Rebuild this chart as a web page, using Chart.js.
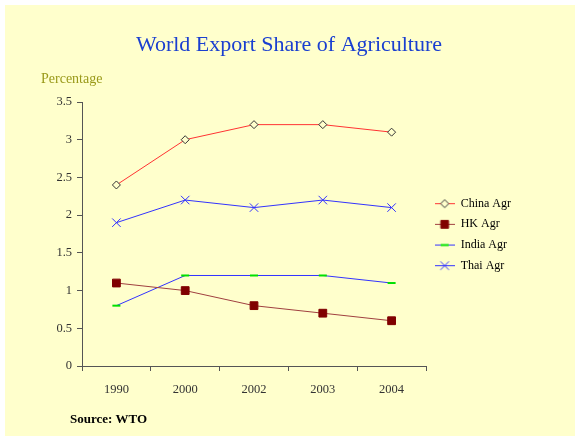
<!DOCTYPE html>
<html>
<head>
<meta charset="utf-8">
<script src="https://cdn.jsdelivr.net/npm/chart.js@4/dist/chart.umd.min.js"></script>
<style>
  html, body { margin: 0; padding: 0; background: #fff; }
  canvas { display: block; }
</style>
</head>
<body>
<canvas id="myChart" width="575" height="436"></canvas>
<script>
const years = ['1990', '2000', '2002', '2003', '2004'];
const chinaAgr = [2.4, 3.0, 3.2, 3.2, 3.1];
const hkAgr = [1.1, 1.0, 0.8, 0.7, 0.6];
const indiaAgr = [0.8, 1.2, 1.2, 1.2, 1.1];
const thaiAgr = [1.9, 2.2, 2.1, 2.2, 2.1];
const seriesNames = ['China Agr', 'HK Agr', 'India Agr', 'Thai Agr'];

const SERIF = "'Liberation Serif', 'Times New Roman', serif";
const BG = '#FFFFCC';

class LinePlot {
    constructor() {
        this.ctx = document.getElementById('myChart').getContext('2d');
        this.setChart();
    }

    getDatasets() {
        return [
            { label: seriesNames[0], data: chinaAgr, borderColor: '#FF3333',
              pointStyle: 'rectRot', pointRadius: 4, pointBorderColor: '#333333',
              pointBackgroundColor: BG, pointBorderWidth: 1 },
            { label: seriesNames[1], data: hkAgr, borderColor: '#A04040',
              pointStyle: 'rect', pointRadius: 5.5, pointBorderColor: '#800000',
              pointBackgroundColor: '#800000', pointBorderWidth: 1 },
            { label: seriesNames[2], data: indiaAgr, borderColor: '#3333FF',
              pointStyle: 'line', pointRadius: 4, pointBorderColor: '#00E000',
              pointBackgroundColor: '#00E000', pointBorderWidth: 2 },
            { label: seriesNames[3], data: thaiAgr, borderColor: '#3333FF',
              pointStyle: 'crossRot', pointRadius: 6, pointBorderColor: '#3333FF',
              pointBackgroundColor: '#3333FF', pointBorderWidth: 1 }
        ].map(d => Object.assign(d, { borderWidth: 1, tension: 0, fill: false, pointHoverRadius: d.pointRadius }));
    }

    // small picture for the legend: the line with the marker in the middle
    legendIcon(ds) {
        const c = document.createElement('canvas');
        c.width = 20; c.height = 13;
        const g = c.getContext('2d');
        g.strokeStyle = ds.borderColor;
        g.lineWidth = 1;
        g.beginPath(); g.moveTo(0, 6.5); g.lineTo(20, 6.5); g.stroke();
        g.strokeStyle = ds.pointBorderColor;
        g.fillStyle = ds.pointBackgroundColor;
        g.lineWidth = ds.pointBorderWidth;
        Chart.helpers.drawPoint(g, {
            pointStyle: ds.pointStyle, radius: ds.pointRadius, rotation: 0,
            borderWidth: ds.pointBorderWidth
        }, 10, 6.5);
        return c;
    }

    getChartObject() {
        const self = this;
        const tickFont = { family: SERIF, size: 12.5 };
        return {
            type: 'line',
            data: { labels: years, datasets: this.getDatasets() },
            options: {
                responsive: false,
                animation: false,
                devicePixelRatio: 1,
                layout: { padding: { left: 0, right: 54, top: 102, bottom: 0 } },
                plugins: {
                    tooltip: { enabled: false },
                    title: { display: false },
                    legend: {
                        position: 'right',
                        align: 'start',
                        // blank legend title only moves the entries down
                        title: { display: true, text: ' ', font: { size: 10 }, padding: { top: 75, bottom: 0 } },
                        labels: {
                            usePointStyle: true,
                            pointStyleWidth: 20,
                            padding: 8.67,
                            color: '#000',
                            font: { family: SERIF, size: 12 },
                            generateLabels(chart) {
                                return chart.data.datasets.map((ds, i) => ({
                                    text: ds.label,
                                    pointStyle: self.icons[i],
                                    fontColor: '#000',
                                    lineWidth: 0,
                                    hidden: false,
                                    datasetIndex: i
                                }));
                            }
                        }
                    }
                },
                scales: {
                    x: {
                        offset: true,
                        grid: { display: true, drawOnChartArea: false, drawTicks: true, tickLength: 5, offset: true, color: '#555' },
                        border: { color: '#555' },
                        ticks: { color: '#333', font: tickFont, padding: 11, maxRotation: 0 },
                        afterFit(scale) { scale.height = 70; }
                    },
                    y: {
                        min: 0, max: 3.5,
                        grid: { display: true, drawOnChartArea: false, drawTicks: true, tickLength: 5, color: '#555' },
                        border: { color: '#555' },
                        ticks: { stepSize: 0.5, color: '#333', font: tickFont, padding: 5,
                                 callback: v => String(v) },
                        afterFit(scale) { scale.width = 82; }
                    }
                }
            },
            plugins: [{
                id: 'paper',
                beforeDraw(chart) {
                    const c = chart.ctx;
                    c.save();
                    c.fillStyle = '#fff';
                    c.fillRect(0, 0, chart.width, chart.height);
                    c.fillStyle = BG;
                    c.fillRect(5, 5, chart.width - 5, chart.height - 5);
                    c.restore();
                },
                afterDraw(chart) {
                    const c = chart.ctx;
                    c.save();
                    c.textBaseline = 'alphabetic';
                    c.textAlign = 'center';
                    c.fillStyle = '#1A3FD0';
                    c.font = '22px ' + SERIF;
                    c.fillText('World Export Share of Agriculture', 289, 51);
                    c.textAlign = 'left';
                    c.fillStyle = '#9A9A1A';
                    c.font = '14px ' + SERIF;
                    c.fillText('Percentage', 41, 83);
                    c.fillStyle = '#000';
                    c.font = 'bold 13px ' + SERIF;
                    c.fillText('Source: WTO', 70, 423);
                    c.restore();
                }
            }]
        };
    }

    setChart() {
        const cfg = this.getChartObject();
        this.icons = cfg.data.datasets.map(ds => this.legendIcon(ds));
        new Chart(this.ctx, cfg);
    }
}

new LinePlot();
</script>
</body>
</html>
